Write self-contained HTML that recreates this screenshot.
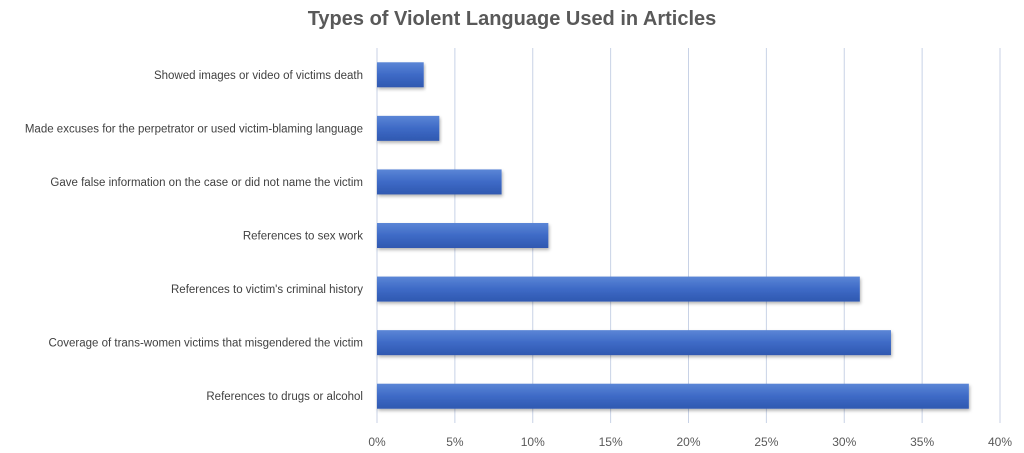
<!DOCTYPE html>
<html><head><meta charset="utf-8"><style>
body{margin:0;background:#fff;}
svg{display:block;font-family:"Liberation Sans",sans-serif;}
</style></head><body>
<svg id="chart" width="1024" height="453">
<defs>
<linearGradient id="bg" x1="0" y1="0" x2="0" y2="1">
<stop offset="0" stop-color="#5b86d6"/><stop offset="0.5" stop-color="#3e6ac6"/><stop offset="1" stop-color="#2f58b0"/>
</linearGradient>
<filter id="sh" x="-5%" y="-20%" width="110%" height="160%"><feDropShadow dx="1" dy="2" stdDeviation="1.5" flood-color="#000" flood-opacity="0.3"/></filter>
</defs>
<text x="512" y="25" text-anchor="middle" font-size="20" font-weight="bold" fill="#595959">Types of Violent Language Used in Articles</text>
<g id="grid"></g><g id="bars"></g><g id="labels"></g><g id="ticks"></g>
</svg>
<script>
const categories=["Showed images or video of victims death","Made excuses for the perpetrator or used victim-blaming language","Gave false information on the case or did not name the victim","References to sex work","References to victim's criminal history","Coverage of trans-women victims that misgendered the victim","References to drugs or alcohol"];
const values=[3,4,8,11,31,33,38];
const tickValues=[0,5,10,15,20,25,30,35,40];
const tickLabels=["0%","5%","10%","15%","20%","25%","30%","35%","40%"];
const NS="http://www.w3.org/2000/svg";
const x0=377,x1=1000,vmax=40,plotTop=48,plotBottom=423;
const xs=v=>x0+(v/vmax)*(x1-x0);
const band=(plotBottom-plotTop)/categories.length;
const ys=i=>plotTop+band*i+band/2;
function mk(t,a,p){const e=document.createElementNS(NS,t);for(const k in a)e.setAttribute(k,a[k]);document.getElementById(p).appendChild(e);return e;}
tickValues.forEach((v,i)=>{
  const l=mk("line",{x1:xs(v),x2:xs(v),y1:plotTop,y2:plotBottom,stroke:"#c8d2e6","stroke-width":1},"grid");
  
  
  const t=mk("text",{x:xs(v),y:446,"text-anchor":"middle","font-size":12,fill:"#595959"},"ticks");
  t.textContent=tickLabels[i];
  
  
});
categories.forEach((c,i)=>{
  const h=25;
  const r=mk("rect",{x:xs(0),y:ys(i)-h/2,width:xs(values[i])-xs(0),height:h,fill:"url(#bg)",filter:"url(#sh)"},"bars");
  
  
  const t=mk("text",{x:363,y:ys(i)+4,"text-anchor":"end","font-size":11.5,fill:"#404040"},"labels");
  t.textContent=c;
  
  
});
</script>
</body></html>
